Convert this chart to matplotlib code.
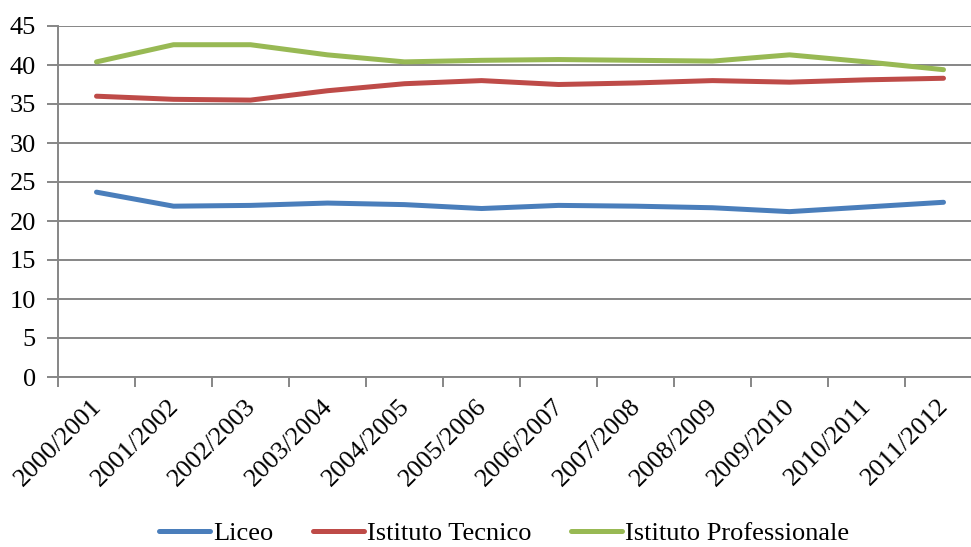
import matplotlib
matplotlib.use('Agg')
import matplotlib.pyplot as plt
import matplotlib.transforms as mtransforms
import numpy as np

# Dati
anni = ['2000/2001', '2001/2002', '2002/2003', '2003/2004', '2004/2005', '2005/2006',
        '2006/2007', '2007/2008', '2008/2009', '2009/2010', '2010/2011', '2011/2012']
liceo = [23.7, 21.9, 22.0, 22.3, 22.1, 21.6, 22.0, 21.9, 21.7, 21.2, 21.8, 22.4]
tecnico = [36.0, 35.6, 35.5, 36.7, 37.6, 38.0, 37.5, 37.7, 38.0, 37.8, 38.1, 38.3]
professionale = [40.4, 42.6, 42.6, 41.3, 40.4, 40.6, 40.7, 40.6, 40.5, 41.3, 40.4, 39.4]

plt.rcParams['font.family'] = ['Liberation Serif', 'DejaVu Serif']
fs = 19

W, H = 971, 547
fig = plt.figure(figsize=(W / 100, H / 100), dpi=100)
# l'asse sinistro è a x=58, il grafico è tagliato a destra
ax = fig.add_axes([58 / W, (H - 377) / H, 924 / W, 351 / H])

grigio = '#868686'
x = np.arange(len(anni))
ax.plot(x, liceo, color='#4A7EBB', lw=3.6, solid_capstyle='round', label='Liceo')
ax.plot(x, tecnico, color='#BE4B48', lw=3.6, solid_capstyle='round', label='Istituto Tecnico')
ax.plot(x, professionale, color='#98B954', lw=3.6, solid_capstyle='round', label='Istituto Professionale')

ax.set_xlim(-0.5, len(anni) - 0.5)
ax.set_ylim(0, 45)
ax.set_yticks(range(0, 46, 5))
ax.yaxis.grid(True, color=grigio, lw=1.4)
ax.set_axisbelow(True)

# tick dell'asse x tra le categorie (stile Excel)
ax.set_xticks(np.arange(-0.5, len(anni), 1.0))
ax.set_xticklabels([])
ax.set_xticks(x, minor=True)
ax.set_xticklabels(anni, minor=True, rotation=45, ha='right', rotation_mode='anchor', fontsize=fs)
ax.tick_params(axis='x', which='minor', length=0, pad=13)
ax.tick_params(axis='x', which='major', length=7, width=1.4, color=grigio)
ax.tick_params(axis='y', length=8, width=1.4, color=grigio, labelsize=fs, pad=8)

sposta = mtransforms.ScaledTranslation(-6 / 100, 0, fig.dpi_scale_trans)
for lab in ax.get_xticklabels(minor=True):
    lab.set_transform(lab.get_transform() + sposta)

for s in ['top', 'right']:
    ax.spines[s].set_visible(False)
for s in ['left', 'bottom']:
    ax.spines[s].set_color(grigio)
    ax.spines[s].set_linewidth(1.4)

fig.legend(loc='center', bbox_to_anchor=(504 / W, (H - 533) / H),
           ncol=3, frameon=False, fontsize=fs, handlelength=1.95, handletextpad=0.1,
           columnspacing=1.5)

fig.savefig('out.png', dpi=100)
